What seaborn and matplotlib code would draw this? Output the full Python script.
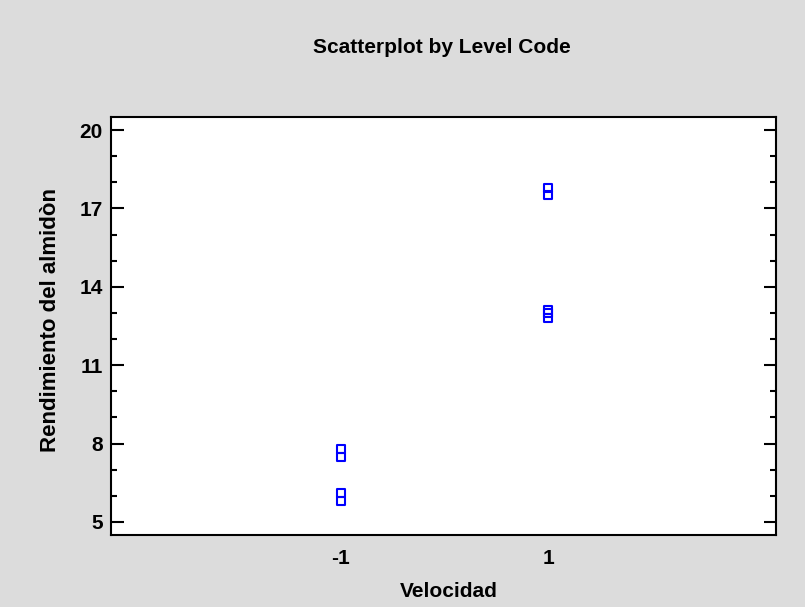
import matplotlib
matplotlib.use("Agg")
import matplotlib.pyplot as plt
import seaborn as sns
import pandas as pd
from matplotlib.ticker import MultipleLocator

# Level codes of Velocidad and observed starch yield
velocidad = [-1, -1, -1, -1, 1, 1, 1, 1, 1]
rendimiento = [7.8, 7.5, 6.1, 5.8, 17.8, 17.5, 13.1, 13.0, 12.8]
y_ticks = [5, 8, 11, 14, 17, 20]
x_ticks = [-1, 1]

df = pd.DataFrame({"Velocidad": velocidad, "Rendimiento": rendimiento})

sns.set_theme(style="white")
plt.rcParams["font.family"] = ["Liberation Sans", "DejaVu Sans"]
plt.rcParams["text.color"] = "black"
plt.rcParams["axes.labelcolor"] = "black"
plt.rcParams["xtick.color"] = "black"
plt.rcParams["ytick.color"] = "black"

FS = 15

fig = plt.figure(figsize=(8.05, 6.07), dpi=100)
fig.patch.set_facecolor("#dcdcdc")
ax = fig.add_axes([0.1379, 0.1186, 0.8261, 0.6886])
ax.set_facecolor("white")

sns.scatterplot(data=df, x="Velocidad", y="Rendimiento", ax=ax,
                marker="s", s=34, facecolor="none", edgecolor="#0000ff",
                linewidth=1.5, legend=False)

ax.set_xlim(-3.22, 3.2)
ax.set_ylim(4.5, 20.5)
ax.set_xticks(x_ticks)
ax.set_xticklabels([str(v) for v in x_ticks])
ax.set_yticks(y_ticks)
ax.yaxis.set_minor_locator(MultipleLocator(1))

for side in ["left", "right", "top", "bottom"]:
    ax.spines[side].set_visible(True)
    ax.spines[side].set_color("black")
    ax.spines[side].set_linewidth(1.5)

ax.tick_params(axis="y", which="major", direction="in", length=9, width=1.5,
               left=True, right=True, labelsize=FS, pad=6, colors="black")
ax.tick_params(axis="y", which="minor", direction="in", length=4, width=1.5,
               left=True, right=True, colors="black")
ax.tick_params(axis="x", which="both", length=0, labelsize=FS, pad=10, colors="black")
for lbl in ax.get_xticklabels() + ax.get_yticklabels():
    lbl.set_fontweight("bold")

ax.set_xlabel("Velocidad", fontsize=FS, fontweight="bold", labelpad=9, color="black")
ax.xaxis.set_label_coords(0.508, -0.112)
ax.set_ylabel("Rendimiento del almidòn", fontsize=16, fontweight="bold", color="black")
ax.yaxis.set_label_coords(-0.075, 0.515)
fig.text(0.549, 0.922, "Scatterplot by Level Code", ha="center", va="center",
         fontsize=FS, fontweight="bold", color="black")

fig.savefig("out.png", dpi=100, facecolor=fig.get_facecolor())
